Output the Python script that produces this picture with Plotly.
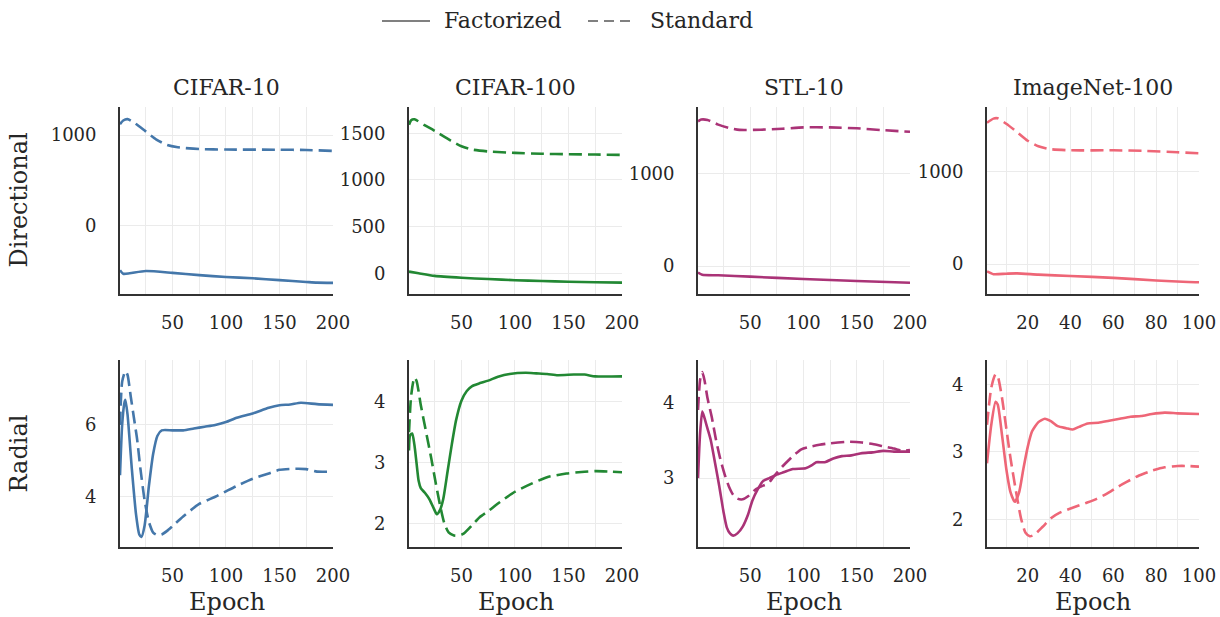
import plotly.graph_objects as go

# ---------------- data ----------------
datasets = ["CIFAR-10", "CIFAR-100", "STL-10", "ImageNet-100"]
colors = ["#4477AA", "#228833", "#AA3377", "#EE6677"]
series_names = ["Factorized", "Standard"]
row_names = ["Directional", "Radial"]

# CIFAR-10
c10_dir_fact_ep = [1, 4, 10, 25, 50, 75, 100, 125, 150, 175, 185, 200]
c10_dir_fact = [-490, -530, -525, -500, -520, -545, -565, -580, -600, -620, -628, -630]
c10_dir_std_ep = [1, 4, 8, 15, 25, 35, 45, 55, 75, 100, 150, 175, 200]
c10_dir_std = [1120, 1160, 1175, 1130, 1040, 950, 890, 865, 845, 840, 838, 835, 825]
c10_rad_fact_ep = [1, 3, 5, 6, 8, 12, 16, 19, 21, 24, 28, 32, 36, 40, 50, 60, 70, 80, 90, 100,
                   110, 125, 140, 150, 160, 170, 185, 200]
c10_rad_fact = [4.6, 6.0, 6.6, 6.7, 6.3, 4.8, 3.5, 2.95, 2.88, 3.2, 4.3, 5.2, 5.7, 5.85, 5.85, 5.85,
                5.9, 5.95, 6.0, 6.08, 6.2, 6.32, 6.48, 6.55, 6.57, 6.62, 6.58, 6.56]
c10_rad_std_ep = [1, 3, 6, 8, 11, 14, 17, 20, 24, 28, 32, 36, 40, 45, 50, 60, 75, 90, 100, 110,
                  125, 140, 150, 165, 175, 185, 200]
c10_rad_std = [6.0, 7.2, 7.5, 7.4, 6.8, 6.2, 5.6, 4.8, 3.9, 3.3, 3.0, 2.93, 2.95, 3.05, 3.18,
               3.45, 3.8, 4.0, 4.15, 4.3, 4.5, 4.65, 4.75, 4.78, 4.77, 4.7, 4.7]

# CIFAR-100
c100_dir_fact_ep = [1, 10, 25, 50, 75, 100, 125, 150, 175, 200]
c100_dir_fact = [18, 0, -28, -48, -62, -74, -83, -90, -96, -100]
c100_dir_std_ep = [1, 3, 6, 15, 25, 40, 50, 60, 75, 100, 125, 150, 175, 200]
c100_dir_std = [1590, 1640, 1650, 1590, 1525, 1420, 1360, 1325, 1305, 1290, 1280, 1275, 1272, 1268]
c100_rad_fact_ep = [1, 2, 4, 6, 8, 10, 12, 16, 20, 24, 27, 30, 33, 37, 41, 45, 50, 55, 60, 66,
                    75, 85, 95, 110, 120, 130, 140, 155, 165, 175, 200]
c100_rad_fact = [3.2, 3.45, 3.48, 3.3, 3.0, 2.7, 2.58, 2.5, 2.4, 2.25, 2.15, 2.22, 2.4, 2.85, 3.3,
                 3.7, 4.02, 4.18, 4.26, 4.3, 4.35, 4.42, 4.46, 4.48, 4.47, 4.46, 4.44, 4.45, 4.45,
                 4.42, 4.42]
c100_rad_std_ep = [1, 3, 6, 8, 12, 17, 22, 26, 30, 34, 38, 43, 48, 52, 60, 67, 75, 86, 100, 115,
                   130, 148, 165, 176, 190, 200]
c100_rad_std = [3.5, 4.1, 4.4, 4.35, 3.95, 3.5, 3.05, 2.66, 2.3, 2.0, 1.85, 1.8, 1.8, 1.83, 1.97,
                2.1, 2.2, 2.35, 2.52, 2.65, 2.76, 2.82, 2.85, 2.86, 2.85, 2.84]

# STL-10
stl_dir_fact_ep = [1, 5, 20, 50, 100, 150, 200]
stl_dir_fact = [-70, -95, -100, -115, -140, -162, -180]
stl_dir_std_ep = [1, 4, 10, 20, 30, 40, 60, 80, 100, 125, 150, 175, 200]
stl_dir_std = [1560, 1580, 1575, 1525, 1490, 1468, 1470, 1480, 1495, 1495, 1485, 1465, 1448]
stl_rad_fact_ep = [1, 3, 5, 7, 10, 13, 17, 21, 25, 28, 31, 34, 38, 43, 48, 52, 57, 62, 68, 74,
                   82, 90, 102, 108, 112, 120, 128, 136, 145, 155, 165, 175, 185, 200]
stl_rad_fact = [3.0, 3.6, 3.88, 3.8, 3.65, 3.5, 3.2, 2.89, 2.55, 2.35, 2.27, 2.24, 2.27, 2.36,
                2.52, 2.7, 2.85, 2.96, 3.0, 3.04, 3.08, 3.12, 3.13, 3.17, 3.21, 3.21, 3.26, 3.29,
                3.3, 3.33, 3.34, 3.36, 3.35, 3.35]
stl_rad_std_ep = [1, 3, 5, 7, 10, 14, 18, 22, 26, 30, 34, 38, 43, 48, 55, 62, 67, 72, 80, 90,
                  98, 105, 115, 125, 142, 155, 165, 175, 185, 193, 200]
stl_rad_std = [3.9, 4.3, 4.4, 4.3, 4.05, 3.8, 3.5, 3.25, 3.05, 2.89, 2.78, 2.73, 2.72, 2.76, 2.85,
               2.9, 2.93, 3.02, 3.15, 3.29, 3.38, 3.41, 3.44, 3.46, 3.48, 3.47, 3.45, 3.42, 3.39,
               3.36, 3.37]

# ImageNet-100
in_dir_fact_ep = [1, 4, 10, 15, 25, 40, 60, 80, 95, 100]
in_dir_fact = [-80, -110, -105, -102, -115, -130, -150, -178, -195, -198]
in_dir_std_ep = [1, 4, 6, 10, 15, 20, 25, 30, 40, 60, 75, 90, 100]
in_dir_std = [1530, 1575, 1578, 1520, 1430, 1335, 1275, 1245, 1232, 1232, 1225, 1210, 1200]
in_rad_fact_ep = [1, 3, 5, 6, 8, 10, 12, 14, 16, 18, 20, 22, 25, 28, 31, 34, 38, 41, 44, 48, 53,
                  58, 63, 68, 73, 78, 84, 90, 100]
in_rad_fact = [2.83, 3.4, 3.74, 3.7, 3.25, 2.75, 2.4, 2.26, 2.4, 2.75, 3.07, 3.3, 3.44, 3.49,
               3.45, 3.38, 3.35, 3.33, 3.37, 3.42, 3.43, 3.46, 3.49, 3.52, 3.53, 3.56, 3.58, 3.57,
               3.56]
in_rad_std_ep = [1, 3, 5, 6, 8, 10, 12, 15, 17, 19, 21, 23, 27, 31, 35, 40, 47, 52, 57, 62, 66,
                 72, 78, 84, 90, 95, 100]
in_rad_std = [3.4, 3.95, 4.15, 4.12, 3.8, 3.35, 2.9, 2.33, 2.0, 1.8, 1.75, 1.77, 1.89, 2.02, 2.1,
              2.16, 2.24, 2.3, 2.38, 2.48, 2.55, 2.65, 2.72, 2.77, 2.79, 2.79, 2.78]

# axis settings (ranges / ticks) per panel
x_ranges = [[1, 200], [1, 200], [1, 200], [1, 100]]
x_dticks = [50, 50, 50, 20]
dir_ranges = [[-753, 1309], [-222, 1781], [-302, 1715], [-325, 1701]]
dir_dticks = [1000, 500, 1000, 1000]
rad_ranges = [[2.6, 7.81], [1.61, 4.69], [2.09, 4.56], [1.59, 4.36]]
rad_dticks = [2, 1, 1, 1]

panels = [
    [(c10_dir_fact_ep, c10_dir_fact, c10_dir_std_ep, c10_dir_std),
     (c100_dir_fact_ep, c100_dir_fact, c100_dir_std_ep, c100_dir_std),
     (stl_dir_fact_ep, stl_dir_fact, stl_dir_std_ep, stl_dir_std),
     (in_dir_fact_ep, in_dir_fact, in_dir_std_ep, in_dir_std)],
    [(c10_rad_fact_ep, c10_rad_fact, c10_rad_std_ep, c10_rad_std),
     (c100_rad_fact_ep, c100_rad_fact, c100_rad_std_ep, c100_rad_std),
     (stl_rad_fact_ep, stl_rad_fact, stl_rad_std_ep, stl_rad_std),
     (in_rad_fact_ep, in_rad_fact, in_rad_std_ep, in_rad_std)],
]

# ---------------- layout ----------------
W, H = 1220, 617
FONT = "DejaVu Serif"
TXT = "#262626"
col_px = [(120, 333), (409, 622), (698, 910), (987, 1199)]
row_px = [(107, 294), (360, 547)]
DASH = "13px,6px"
LW = 2.6
TICKSIZE = 18

fig = go.Figure()
layout = dict(
    template="none",
    width=W, height=H,
    margin=dict(l=0, r=0, t=0, b=0, autoexpand=False),
    paper_bgcolor="white", plot_bgcolor="white",
    font=dict(family=FONT, color=TXT, size=TICKSIZE),
    showlegend=False,
)
annotations = []
shapes = []

for r in range(2):
    for c in range(4):
        idx = r * 4 + c + 1
        xa = "x" if idx == 1 else f"x{idx}"
        ya = "y" if idx == 1 else f"y{idx}"
        xkey = "xaxis" if idx == 1 else f"xaxis{idx}"
        ykey = "yaxis" if idx == 1 else f"yaxis{idx}"
        fe, fv, se, sv = panels[r][c]
        fig.add_trace(go.Scatter(x=fe, y=fv, mode="lines", xaxis=xa, yaxis=ya,
                                 name=series_names[0],
                                 line=dict(color=colors[c], width=LW, shape="spline", smoothing=0.6),
                                 hoverinfo="skip"))
        fig.add_trace(go.Scatter(x=se, y=sv, mode="lines", xaxis=xa, yaxis=ya,
                                 name=series_names[1],
                                 line=dict(color=colors[c], width=LW, dash=DASH, shape="spline",
                                           smoothing=0.6),
                                 hoverinfo="skip"))
        x0, x1 = col_px[c]
        y0, y1 = row_px[r]
        layout[xkey] = dict(
            domain=[x0 / W, x1 / W], anchor=ya, range=x_ranges[c], automargin=False,
            tick0=0, dtick=x_dticks[c], showgrid=True, gridcolor="#ebebeb", gridwidth=1,
            minor=dict(dtick=x_dticks[c] / 2, tick0=0, showgrid=True, gridcolor="#ebebeb",
                       gridwidth=1),
            showline=True, linecolor="#333333", linewidth=1.8, mirror=False,
            ticks="", ticklabelstandoff=11, zeroline=False,
            tickfont=dict(size=TICKSIZE, family=FONT, color=TXT),
        )
        rng = dir_ranges[c] if r == 0 else rad_ranges[c]
        dt = dir_dticks[c] if r == 0 else rad_dticks[c]
        layout[ykey] = dict(
            domain=[1 - y1 / H, 1 - y0 / H], anchor=xa, range=rng, automargin=False,
            tick0=0, dtick=dt, showgrid=True, gridcolor="#ebebeb", gridwidth=1,
            showline=True, linecolor="#333333", linewidth=1.8, mirror=False,
            ticks="", ticklabelstandoff=18, zeroline=False,
            tickfont=dict(size=TICKSIZE, family=FONT, color=TXT),
        )
        if r == 0:
            annotations.append(dict(text=datasets[c], xref=f"{xa} domain", x=0.5, xanchor="center",
                                    yref="paper", y=1 - 87 / H, yanchor="middle", showarrow=False,
                                    font=dict(size=22, family=FONT, color=TXT)))
        else:
            annotations.append(dict(text="Epoch", xref=f"{xa} domain", x=0.5, xanchor="center",
                                    yref="paper", y=1 - 602 / H, yanchor="middle", showarrow=False,
                                    font=dict(size=24, family=FONT, color=TXT)))

for r, name in enumerate(row_names):
    yc = (row_px[r][0] + row_px[r][1]) / 2
    annotations.append(dict(text=name, xref="paper", x=18 / W, xanchor="center",
                            yref="paper", y=1 - yc / H, yanchor="middle", showarrow=False,
                            textangle=-90, font=dict(size=24, family=FONT, color=TXT)))

# legend (grey proxy keys)
LEG_Y = 1 - 21 / H
legend_keys = [(382, 430, 442, "solid"), (588, 632, 648, "10px,6px")]
for (lx0, lx1, tx, dash), name in zip(legend_keys, series_names):
    shapes.append(dict(type="line", xref="paper", yref="paper", x0=lx0 / W, x1=lx1 / W,
                       y0=LEG_Y, y1=LEG_Y, line=dict(color="#808080", width=2.2, dash=dash)))
    annotations.append(dict(text=name, xref="paper", x=tx / W, xanchor="left",
                            yref="paper", y=LEG_Y, yanchor="middle", showarrow=False,
                            font=dict(size=22, family=FONT, color=TXT)))

layout["annotations"] = annotations
layout["shapes"] = shapes
fig.update_layout(**layout)
fig.write_html("out.html")
